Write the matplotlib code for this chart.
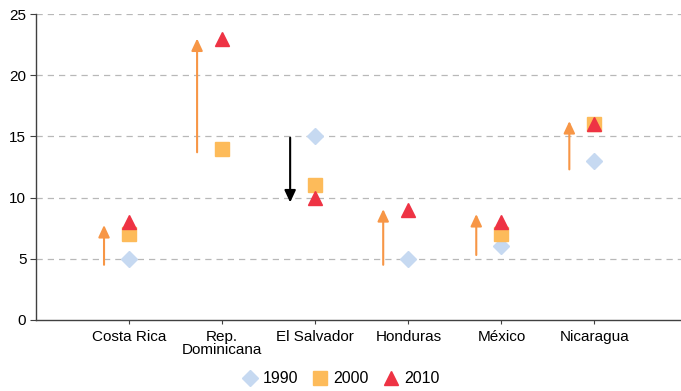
import matplotlib
matplotlib.use("Agg")
import matplotlib.pyplot as plt
import numpy as np

plt.rcParams['font.family'] = ['Liberation Sans', 'DejaVu Sans']

categories = ["Costa Rica", "Rep.\nDominicana", "El Salvador", "Honduras", "México", "Nicaragua"]
v1990 = [5, np.nan, 15, 5, 6, 13]
v2000 = [7, 14, 11, np.nan, 7, 16]
v2010 = [8, 23, 10, 9, 8, 16]
arrow_start = [4.5, 13.7, 14.9, 4.5, 5.3, 12.3]
arrow_end = [7.75, 23.0, 9.6, 9.05, 8.65, 16.25]
arrow_colors = ["#f79646", "#f79646", "#000000", "#f79646", "#f79646", "#f79646"]

fig = plt.figure(figsize=(6.81, 3.91), dpi=100)
ax = fig.add_axes([0.053, 0.182, 0.947, 0.782])

x = np.arange(1, len(categories) + 1)

for xi, s, e, c in zip(x, arrow_start, arrow_end, arrow_colors):
    ax.annotate("", xy=(xi - 0.27, e), xytext=(xi - 0.27, s),
                arrowprops=dict(arrowstyle="-|>,head_width=0.28,head_length=0.6",
                                color=c, lw=1.5, shrinkA=0, shrinkB=0,
                                mutation_scale=12), zorder=3)

ax.plot(x, v1990, linestyle="none", marker="D", ms=8, color="#c6d9f1", label="1990", zorder=4)
ax.plot(x, v2000, linestyle="none", marker="s", ms=9.5, color="#fdbb5a", label="2000", zorder=5)
ax.plot(x, v2010, linestyle="none", marker="^", ms=10.5, color="#ee3344", label="2010", zorder=6)

ax.set_xlim(0, 6.93)
ax.set_ylim(0, 25)
ax.set_yticks([0, 5, 10, 15, 20, 25])
ax.set_xticks(x)
ax.set_xticklabels(categories, fontsize=11, linespacing=0.95)
ax.tick_params(axis='y', labelsize=11, length=4, color="#404040", pad=3)
ax.tick_params(axis='x', length=3, color="#404040", pad=4)
for yv in [5, 10, 15, 20, 25]:
    ax.axhline(yv, color="#b8b8b8", lw=0.9, ls=(0, (5, 4)), zorder=1)
ax.spines['top'].set_visible(False)
ax.spines['right'].set_visible(False)
ax.spines['left'].set_color("#404040")
ax.spines['bottom'].set_color("#404040")
ax.spines['left'].set_linewidth(1.0)
ax.spines['bottom'].set_linewidth(1.0)

fig.legend(loc="lower center", bbox_to_anchor=(0.5, -0.025), ncol=3, frameon=False,
           fontsize=11.5, handletextpad=0.3, columnspacing=0.9, handlelength=1.0)

fig.savefig("out.png", dpi=100)
